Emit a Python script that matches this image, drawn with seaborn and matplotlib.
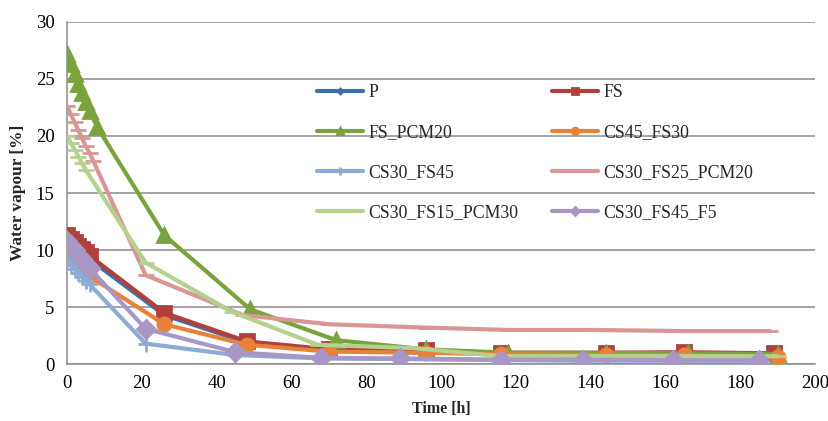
import matplotlib
matplotlib.use("Agg")
import matplotlib.pyplot as plt
import numpy as np
import seaborn as sns

# series: time [h] and water vapour [%]
t_p = [0, 1, 2, 3, 4, 5, 6, 26, 48, 70, 96, 116, 144, 165, 189]
p = [11.0, 10.7, 10.4, 10.1, 9.8, 9.5, 9.2, 4.3, 1.9, 1.2, 1.0, 0.95, 0.95, 0.9, 0.85]

t_fs = [0, 1, 2, 3, 4, 5, 6, 26, 48, 70, 96, 116, 144, 165, 189]
fs = [11.3, 11.0, 10.7, 10.4, 10.1, 9.8, 9.5, 4.5, 2.0, 1.3, 1.2, 1.0, 1.0, 1.05, 0.95]

t_fs_pcm20 = [0, 1, 2, 3, 4, 5, 6, 8, 26, 49, 72, 96, 118, 144, 166, 190]
fs_pcm20 = [27.2, 26.3, 25.4, 24.6, 23.8, 23.0, 22.2, 20.8, 11.3, 4.8, 2.1, 1.3, 1.0, 1.0, 0.95, 0.9]

t_cs45_fs30 = [0, 1, 2, 3, 4, 5, 6, 26, 48, 70, 96, 116, 144, 165, 190]
cs45_fs30 = [10.5, 10.0, 9.5, 9.0, 8.5, 8.1, 7.7, 3.5, 1.7, 1.1, 1.0, 0.87, 0.8, 0.8, 0.6]

t_cs30_fs45 = [0, 1, 2, 3, 4, 5, 6, 21, 45, 68, 89, 116, 138, 162, 185]
cs30_fs45 = [9.0, 8.7, 8.3, 8.0, 7.6, 7.3, 7.0, 1.8, 0.8, 0.5, 0.45, 0.35, 0.3, 0.3, 0.3]

t_cs30_fs25_pcm20 = [0, 1, 2, 3, 4, 5, 6, 7, 21, 47, 70, 96, 118, 140, 165, 188]
cs30_fs25_pcm20 = [22.6, 21.9, 21.2, 20.5, 19.8, 19.1, 18.5, 17.8, 7.8, 4.3, 3.5, 3.2, 3.0, 3.0, 2.9, 2.9]

t_cs30_fs15_pcm30 = [0, 1, 2, 3, 4, 5, 21, 44, 67, 93, 116, 140, 165, 190]
cs30_fs15_pcm30 = [20.0, 19.4, 18.8, 18.2, 17.6, 17.0, 8.9, 4.6, 1.7, 1.4, 0.7, 0.7, 0.7, 0.7]

t_cs30_fs45_f5 = [0, 1, 2, 3, 4, 5, 6, 21, 45, 68, 89, 116, 138, 162, 185]
cs30_fs45_f5 = [10.8, 10.4, 10.0, 9.6, 9.2, 8.8, 8.4, 3.1, 1.05, 0.55, 0.5, 0.4, 0.4, 0.35, 0.35]

names = ["P", "FS", "FS_PCM20", "CS45_FS30", "CS30_FS45",
         "CS30_FS25_PCM20", "CS30_FS15_PCM30", "CS30_FS45_F5"]
times = [t_p, t_fs, t_fs_pcm20, t_cs45_fs30, t_cs30_fs45,
         t_cs30_fs25_pcm20, t_cs30_fs15_pcm30, t_cs30_fs45_f5]
values = [p, fs, fs_pcm20, cs45_fs30, cs30_fs45,
          cs30_fs25_pcm20, cs30_fs15_pcm30, cs30_fs45_f5]
colors = ["#3f6fa8", "#b0403d", "#7aa33e", "#e8823a", "#8eabd6",
          "#d99694", "#b5d18f", "#a897c4"]
markers = ["D", "s", "^", "o", "+", "_", "_", "D"]
msizes = [5, 9.5, 10, 9.5, 11, 11, 11, 9]

sns.set_style("white")
plt.rcParams['font.family'] = ['Liberation Serif', 'DejaVu Serif']

fig, ax = plt.subplots(figsize=(8.29, 4.21), dpi=100)
fig.subplots_adjust(left=0.081, right=0.983, top=0.948, bottom=0.135)

for i in range(len(names)):
    sns.lineplot(x=times[i], y=values[i], ax=ax, color=colors[i], lw=3,
                 marker=markers[i], markersize=msizes[i], mew=2,
                 mec=colors[i], label=names[i], zorder=3 + i)

ax.set_xlim(0, 200)
ax.set_ylim(0, 30)
ax.set_xticks(np.arange(0, 201, 20))
ax.set_yticks(np.arange(0, 31, 5))
ax.yaxis.grid(True, color="#8c8c8c", lw=1.1)
ax.xaxis.grid(False)
for s in ["top", "right"]:
    ax.spines[s].set_visible(False)
for s in ["left", "bottom"]:
    ax.spines[s].set_color("#8c8c8c")
    ax.spines[s].set_linewidth(1.1)
ax.tick_params(axis="both", labelsize=13.5, length=0, labelcolor="black")
ax.tick_params(axis="x", pad=8)
ax.tick_params(axis="y", pad=9)
ax.set_xlabel("Time [h]", fontsize=11.5, fontweight="bold", labelpad=6)
ax.set_ylabel("Water vapour [%]", fontsize=12.5, fontweight="bold", labelpad=7)

h, l = ax.get_legend_handles_labels()
order = [0, 2, 4, 6, 1, 3, 5, 7]
ax.legend([h[k] for k in order], [l[k] for k in order], ncol=2, frameon=False,
          loc="upper left", bbox_to_anchor=(0.322, 0.845), borderpad=0,
          fontsize=12.8, handlelength=2.6, handletextpad=0.3,
          labelspacing=1.3, columnspacing=1.9, markerscale=0.5)

fig.savefig("out.png", dpi=100)
